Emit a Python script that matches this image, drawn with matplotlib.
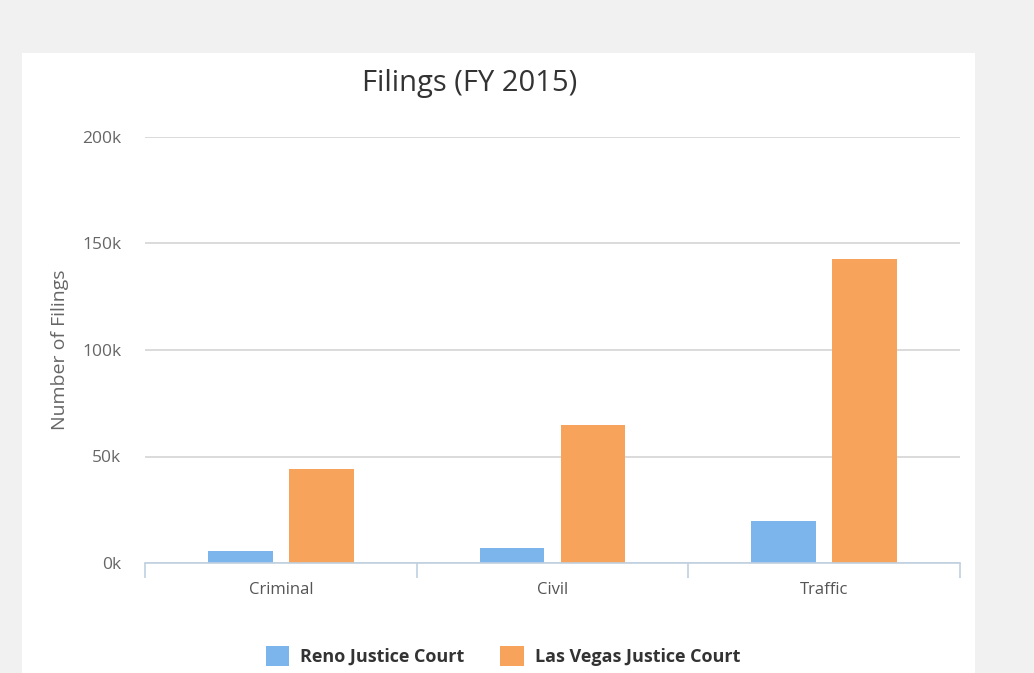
import matplotlib.pyplot as plt
from matplotlib.patches import Rectangle
import numpy as np

# Datos
categorias = ["Criminal", "Civil", "Traffic"]
reno = [5600, 7200, 19900]
las_vegas = [44000, 64800, 142700]
series = ["Reno Justice Court", "Las Vegas Justice Court"]
colores = ["#7cb5ec", "#f7a35c"]

plt.rcParams["font.family"] = ["Open Sans", "DejaVu Sans"]

W, H = 1034, 673
fig = plt.figure(figsize=(W / 100, H / 100), dpi=100)
fig.patch.set_facecolor("#f1f1f1")

# panel blanco
fig.patches.append(Rectangle((22 / W, 0), (975 - 22) / W, (H - 53) / H,
                             transform=fig.transFigure, facecolor="white",
                             edgecolor="none", zorder=-1))

ax = fig.add_axes([145 / W, (H - 563) / H, 815 / W, 426 / H])
ax.set_facecolor("white")
ax.set_zorder(1)

x = np.arange(len(categorias))
ancho = 0.239
off = 0.149
ax.bar(x - off, reno, ancho, color=colores[0], label=series[0], zorder=3)
ax.bar(x + off, las_vegas, ancho, color=colores[1], label=series[1], zorder=3)

ax.set_xlim(-0.5, 2.5)
ax.set_ylim(0, 200000)
ax.set_yticks([0, 50000, 100000, 150000, 200000])
ax.set_yticklabels(["0k", "50k", "100k", "150k", "200k"])
ax.grid(axis="y", color="#d8d8d8", linewidth=1.3, zorder=0)
ax.set_xticks(x)
ax.set_xticklabels(categorias)
ax.set_xticks([-0.5, 0.5, 1.5, 2.5], minor=True)
ax.tick_params(axis="x", which="major", length=0, pad=14, labelsize=12, labelcolor="#555555")
ax.tick_params(axis="x", which="minor", length=11, width=1.2, color="#c0d0e0")
ax.tick_params(axis="y", length=0, pad=17, labelsize=12.5, labelcolor="#666666")

for s in ["top", "right", "left"]:
    ax.spines[s].set_visible(False)
ax.spines["bottom"].set_color("#c0d0e0")
ax.spines["bottom"].set_linewidth(1.2)
ax.spines["bottom"].set_zorder(4)

fig.text(60 / W, 1 - 350 / H, "Number of Filings", rotation=90, ha="center",
         va="center", fontsize=14, color="#666666")
fig.text(470 / W, 1 - 83 / H, "Filings (FY 2015)", ha="center", va="center",
         fontsize=21, color="#333333")

leg = fig.legend(loc="center", bbox_to_anchor=(503 / W, 1 - 656 / H), ncol=2,
                 frameon=False, handlelength=1.3, handleheight=1.3,
                 columnspacing=2.0, handletextpad=0.6,
                 prop={"size": 13, "weight": "bold"})
for t in leg.get_texts():
    t.set_color("#333333")

plt.savefig("out.png", dpi=100, facecolor=fig.get_facecolor())
